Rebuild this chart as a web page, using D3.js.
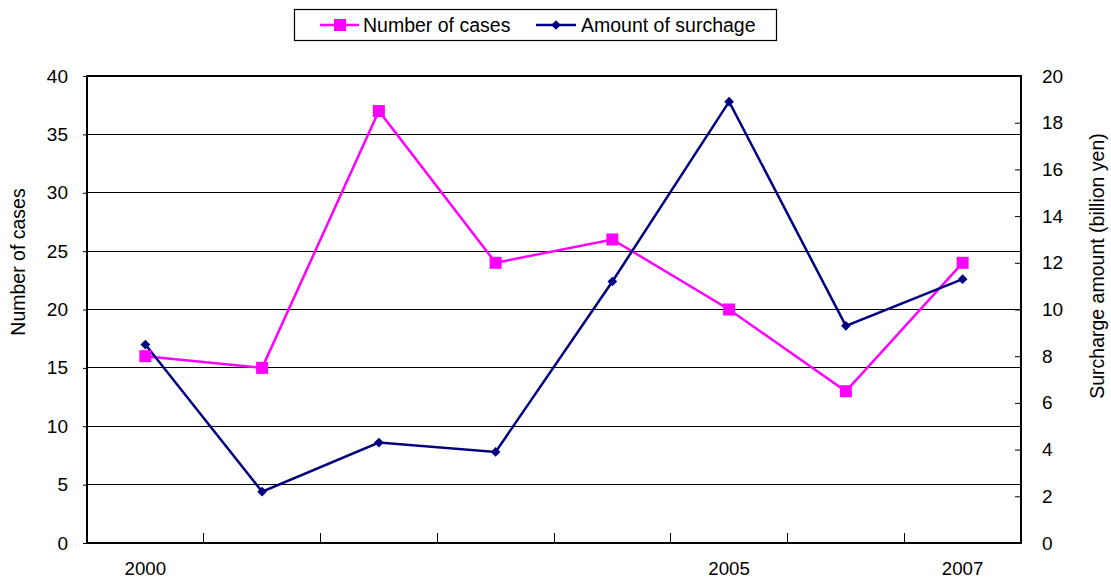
<!DOCTYPE html>
<html>
<head>
<meta charset="utf-8">
<script src="https://cdn.jsdelivr.net/npm/d3@7"></script>
<style>
body { margin: 0; background: #fff; }
text { font-family: "Liberation Sans", Arial, sans-serif; fill: #000; }
</style>
</head>
<body>
<div id="chart"></div>
<script>
const years = ["2000", "2001", "2002", "2003", "2004", "2005", "2006", "2007"]
const yearLabels = ["2000", "", "", "", "", "2005", "", "2007"]
const cases = [16, 15, 37, 24, 26, 20, 13, 24]
const surcharge = [8.5, 2.2, 4.3, 3.9, 11.2, 18.9, 9.3, 11.3]
const leftTicks = [0, 5, 10, 15, 20, 25, 30, 35, 40]
const rightTicks = [0, 2, 4, 6, 8, 10, 12, 14, 16, 18, 20]

const width = 1111
const height = 580
const margin = {top: 76, right: 90, bottom: 37, left: 87}
const w = 1021 - margin.left
const h = 543 - margin.top

const svg = d3.select("#chart").append("svg").attr("width", width).attr("height", height)
const g = svg.append("g").attr("transform", `translate(${margin.left},${margin.top})`)

const x = d3.scaleBand().domain(years).range([0, w])
const yL = d3.scaleLinear().domain([0, 40]).range([h, 0])
const yR = d3.scaleLinear().domain([0, 20]).range([h, 0])
const cx = d => x(d) + x.bandwidth() / 2

// gridlines
g.selectAll(".grid").data(leftTicks.slice(1)).enter().append("line")
    .attr("x1", 0).attr("x2", w).attr("y1", d => yL(d)).attr("y2", d => yL(d))
    .attr("stroke", "#000").attr("stroke-width", 1).attr("shape-rendering", "crispEdges")

// plot border
g.append("rect").attr("x", 0).attr("y", 0).attr("width", w).attr("height", h)
    .attr("fill", "none").attr("stroke", "#000").attr("stroke-width", 1.2).attr("shape-rendering", "crispEdges")

// left axis
const axL = g.append("g").call(d3.axisLeft(yL).tickValues(leftTicks).tickSize(4).tickPadding(15))
axL.select(".domain").remove()
axL.selectAll("text").style("font-size", "19px")

// right axis (inner ticks)
const axR = g.append("g").attr("transform", `translate(${w},0)`)
    .call(d3.axisRight(yR).tickValues(rightTicks).tickSize(-6).tickPadding(21))
axR.select(".domain").remove()
axR.selectAll("text").style("font-size", "19px")

// bottom axis: ticks at category boundaries, pointing up
const bounds = years.slice(1).map(d => x(d))
g.selectAll(".xtick").data(bounds).enter().append("line")
    .attr("x1", d => d).attr("x2", d => d).attr("y1", h).attr("y2", h - 10)
    .attr("stroke", "#000").attr("shape-rendering", "crispEdges")
g.selectAll(".xlabel").data(years).enter().append("text")
    .attr("x", d => cx(d)).attr("y", h + 32).attr("text-anchor", "middle")
    .style("font-size", "18.7px").text((d, i) => yearLabels[i])

// axis titles
svg.append("text").attr("transform", "translate(25,262) rotate(-90)")
    .attr("text-anchor", "middle").style("font-size", "19.5px").text("Number of cases")
svg.append("text").attr("transform", "translate(1104,266) rotate(-90)")
    .attr("text-anchor", "middle").style("font-size", "19.5px").text("Surcharge amount (billion yen)")

// lines
const lineL = d3.line().x((d, i) => cx(years[i])).y(d => yL(d))
const lineR = d3.line().x((d, i) => cx(years[i])).y(d => yR(d))

g.append("path").datum(cases).attr("d", lineL).attr("fill", "none").attr("stroke", "#ff00ff").attr("stroke-width", 2.5)
g.append("path").datum(surcharge).attr("d", lineR).attr("fill", "none").attr("stroke", "#000080").attr("stroke-width", 2.5)

g.selectAll(".sq").data(cases).enter().append("rect")
    .attr("x", (d, i) => cx(years[i]) - 6).attr("y", d => yL(d) - 6)
    .attr("width", 12).attr("height", 12).attr("fill", "#ff00ff")

const diamond = d3.symbol().type(d3.symbolDiamond2).size(60)
g.selectAll(".dm").data(surcharge).enter().append("path")
    .attr("d", diamond).attr("transform", (d, i) => `translate(${cx(years[i])},${yR(d)})`)
    .attr("fill", "#000080")

// legend
const lg = svg.append("g")
lg.append("rect").attr("x", 294.5).attr("y", 9.5).attr("width", 482).attr("height", 31)
    .attr("fill", "#fff").attr("stroke", "#000").attr("stroke-width", 1.2)
lg.append("line").attr("x1", 320).attr("x2", 359).attr("y1", 25).attr("y2", 25).attr("stroke", "#ff00ff").attr("stroke-width", 2.5)
lg.append("rect").attr("x", 334).attr("y", 19).attr("width", 12).attr("height", 12).attr("fill", "#ff00ff")
lg.append("text").attr("x", 363).attr("y", 32).style("font-size", "19.5px").text("Number of cases")
lg.append("line").attr("x1", 536).attr("x2", 576).attr("y1", 25).attr("y2", 25).attr("stroke", "#000080").attr("stroke-width", 2.5)
lg.append("path").attr("d", diamond).attr("transform", "translate(556,25)").attr("fill", "#000080")
lg.append("text").attr("x", 581).attr("y", 32).style("font-size", "19.5px").text("Amount of surchage")
</script>
</body>
</html>
